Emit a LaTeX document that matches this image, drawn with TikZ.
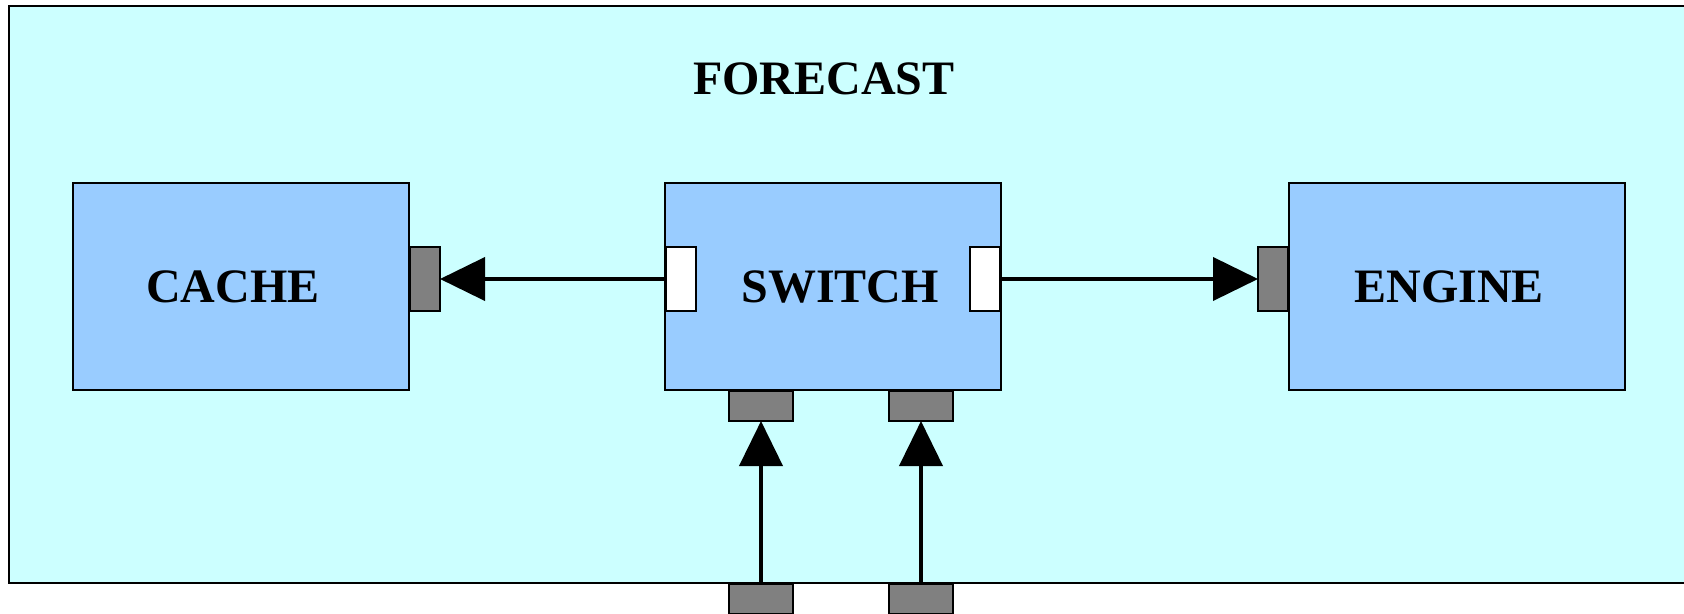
\documentclass[tikz,border=0pt]{standalone}
\usepackage{fontspec}
\setmainfont{Liberation Serif}
\usetikzlibrary{arrows.meta}
\definecolor{outerfill}{HTML}{CCFFFF}
\definecolor{boxfill}{HTML}{99CCFF}
\definecolor{portgray}{HTML}{808080}
\begin{document}
\begin{tikzpicture}[x=0.5pt,y=-0.5pt,
  lbl/.style={font=\fontsize{24}{28}\selectfont\bfseries},
  blk/.style={draw=black, line width=1pt, fill=boxfill, rectangle, inner sep=0pt, outer sep=0pt,
    minimum width=168pt, minimum height=103.5pt},
  vport/.style={draw=black, line width=1pt, rectangle, inner sep=0pt, outer sep=0pt,
    minimum width=15pt, minimum height=32pt},
  hport/.style={draw=black, line width=1pt, rectangle, inner sep=0pt, outer sep=0pt,
    minimum width=32pt, minimum height=15pt},
  gport/.style={fill=portgray},
  wport/.style={fill=white},
  conn/.style={draw=black, line width=2pt, -{Triangle[length=22.5pt,width=21.5pt]}}
]
\useasboundingbox (0,0) rectangle (1684,614);
\clip (0,0) rectangle (1684,614);
% outer container
\draw[line width=1pt, fill=outerfill] (9,6) rectangle (1720,583);
\node[lbl] (title) at (824,79) {FORECAST};
% blocks
\node[blk] (cache) at (240.5,286.5) {};
\node[lbl] (cachet) at (233,287) {CACHE};
\node[blk] (switch) at (833,286.5) {};
\node[lbl] (switcht) at (840,287) {SWITCH};
\node[blk] (engine) at (1457,286.5) {};
\node[lbl] (enginet) at (1449,287) {ENGINE};
% ports
\node[vport,gport] (cachep) at (425,279) {};
\node[vport,wport] (swl) at (681,279) {};
\node[vport,wport] (swr) at (985,279) {};
\node[vport,gport] (enginep) at (1273,279) {};
\node[hport,gport] (swb1) at (761,406) {};
\node[hport,gport] (swb2) at (921,406) {};
\node[hport,gport] (in1) at (761,599) {};
\node[hport,gport] (in2) at (921,599) {};
% connectors
\draw[conn] (swl.west) -- (cachep.east);
\draw[conn] (swr.east) -- (enginep.west);
\draw[conn] (in1.north) -- (swb1.south);
\draw[conn] (in2.north) -- (swb2.south);
\end{tikzpicture}
\end{document}
